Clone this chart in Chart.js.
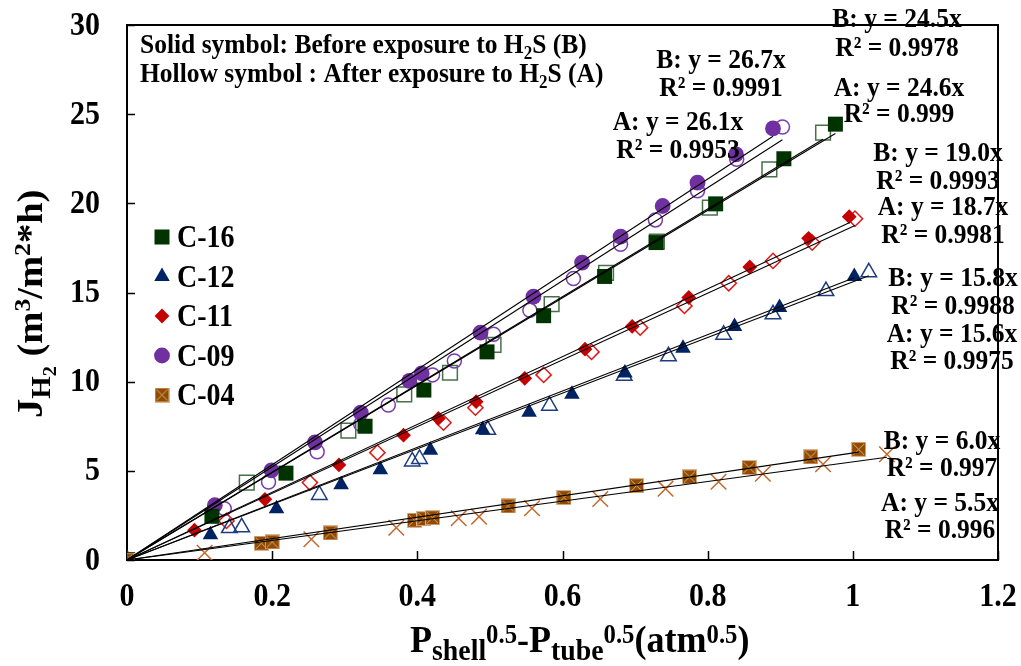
<!DOCTYPE html>
<html>
<head>
<meta charset="utf-8">
<script src="https://cdn.jsdelivr.net/npm/chart.js@4.4.1/dist/chart.umd.min.js"></script>
<style>
  html, body { margin: 0; padding: 0; background: #fff; }
  #wrap { width: 1021px; height: 666px; position: relative; }
</style>
</head>
<body>
<div id="wrap"><canvas id="c" width="1021" height="666"></canvas></div>
<script>
const SERIF = '"Liberation Serif", "Times New Roman", serif';
const STRETCH = 1.1; // glyphs are drawn slightly tall

// Membranes, in plotting order
const seriesNames = ['C-16', 'C-12', 'C-11', 'C-09', 'C-04'];

// H2 flux vs. Pshell^0.5 - Ptube^0.5, before exposure to H2S (B)
const c16Before = [[0,0],[0.117,2.45],[0.219,4.87],[0.328,7.5],[0.409,9.53],[0.496,11.67],[0.574,13.7],[0.658,15.9],[0.729,17.8],[0.811,19.97],[0.905,22.5],[0.976,24.44]];
const c12Before = [[0,0],[0.115,1.41],[0.206,2.88],[0.295,4.22],[0.349,5.06],[0.418,6.15],[0.49,7.3],[0.554,8.29],[0.613,9.3],[0.686,10.48],[0.766,11.88],[0.837,13.1],[0.899,14.16],[1.002,15.9]];
const c11Before = [[0,0],[0.093,1.67],[0.19,3.4],[0.292,5.33],[0.381,7.0],[0.429,7.94],[0.481,8.88],[0.548,10.19],[0.631,11.82],[0.696,13.1],[0.774,14.72],[0.858,16.43],[0.939,18.04],[0.995,19.25]];
const c09Before = [[0,0],[0.121,3.07],[0.199,5.03],[0.259,6.6],[0.322,8.26],[0.389,10.04],[0.406,10.47],[0.487,12.75],[0.56,14.77],[0.627,16.68],[0.68,18.13],[0.738,19.85],[0.786,21.16],[0.839,22.75],[0.89,24.2]];
const c04Before = [[0,0],[0.185,0.94],[0.2,1.01],[0.28,1.52],[0.396,2.23],[0.409,2.32],[0.421,2.37],[0.525,3.03],[0.602,3.5],[0.702,4.17],[0.775,4.66],[0.857,5.18],[0.942,5.78],[1.008,6.21]];

// ... and after exposure to H2S (A)
const c16After = [[0,0],[0.165,4.34],[0.305,7.25],[0.382,9.29],[0.445,10.5],[0.505,12.06],[0.585,14.35],[0.66,16.1],[0.73,17.85],[0.803,19.76],[0.885,21.9],[0.959,23.96]];
const c12After = [[0,0],[0.141,1.79],[0.158,1.83],[0.265,3.65],[0.393,5.53],[0.403,5.67],[0.497,7.3],[0.582,8.65],[0.685,10.33],[0.746,11.42],[0.822,12.63],[0.89,13.78],[0.963,15.08],[1.022,16.13]];
const c11After = [[0,0],[0.137,2.19],[0.252,4.34],[0.345,6.02],[0.436,7.7],[0.48,8.54],[0.574,10.38],[0.64,11.67],[0.707,13.03],[0.768,14.25],[0.829,15.52],[0.89,16.77],[0.944,17.8],[1.003,19.14]];
const c09After = [[0,0],[0.134,2.88],[0.195,4.37],[0.262,6.07],[0.322,7.61],[0.36,8.69],[0.421,10.38],[0.451,11.16],[0.505,12.66],[0.555,14.0],[0.615,15.78],[0.68,17.7],[0.728,19.07],[0.786,20.7],[0.84,22.47],[0.903,24.28]];
const c04After = [[0,0],[0.107,0.41],[0.254,1.16],[0.371,1.81],[0.457,2.34],[0.485,2.43],[0.558,2.9],[0.652,3.42],[0.742,4.0],[0.815,4.39],[0.876,4.84],[0.959,5.37],[1.047,5.93]];

// Linear fits through the origin (y = k x)
const slopeBefore = [24.5, 15.8, 19.0, 26.7, 6.0];
const slopeAfter  = [24.6, 15.6, 18.7, 26.1, 5.5];
const r2Before = ['0.9978', '0.9988', '0.9993', '0.9991', '0.997'];
const r2After  = ['0.999',  '0.9975', '0.9981', '0.9953', '0.996'];

// Axis tick labels
const xTickLabels = ['0', '0.2', '0.4', '0.6', '0.8', '1', '1.2'];
const yTickLabels = ['0', '5', '10', '15', '20', '25', '30'];

const beforeSets = [c16Before, c12Before, c11Before, c09Before, c04Before];
const afterSets  = [c16After,  c12After,  c11After,  c09After,  c04After];

// ---- marker styling ----
function makeCrossedSquare(size) {
  const c = document.createElement('canvas');
  c.width = size; c.height = size;
  const g = c.getContext('2d');
  g.fillStyle = '#974800';
  g.fillRect(0, 0, size, size);
  g.strokeStyle = '#d7b48c';
  g.lineWidth = 1;
  g.strokeRect(0.5, 0.5, size - 1, size - 1);
  g.strokeStyle = '#b9bd82';
  g.lineWidth = 1;
  g.beginPath();
  g.moveTo(2, 2); g.lineTo(size - 2, size - 2);
  g.moveTo(size - 2, 2); g.lineTo(2, size - 2);
  g.stroke();
  return c;
}
const c04Marker = makeCrossedSquare(15);

const solidStyle = [
  { pointStyle: 'rect',     radius: 10.6, color: '#013300' },
  { pointStyle: 'triangle', radius: 9.0,  color: '#002364' },
  { pointStyle: 'rectRot',  radius: 7.4,  color: '#c40000' },
  { pointStyle: 'circle',   radius: 7.9,  color: '#7030a0' },
  { pointStyle: c04Marker,  radius: 7.5,  color: '#974800' }
];
const hollowStyle = [
  { pointStyle: 'rect',     radius: 10.4, color: '#48704a' },
  { pointStyle: 'triangle', radius: 9.0,  color: '#1d3d80' },
  { pointStyle: 'rectRot',  radius: 7.6,  color: '#e01818' },
  { pointStyle: 'circle',   radius: 7.0,  color: '#7a3cb0' },
  { pointStyle: 'crossRot', radius: 11,   color: '#c4682c' }
];

const toPts = arr => arr.map(p => ({ x: p[0], y: p[1] }));
const maxX = arr => Math.max(...arr.map(p => p[0]));

const datasets = [];
seriesNames.forEach((name, i) => {
  const s = solidStyle[i], h = hollowStyle[i];
  datasets.push({
    label: name + ' (B)',
    data: toPts(beforeSets[i]),
    pointStyle: s.pointStyle,
    pointRadius: s.radius,
    pointHoverRadius: s.radius,
    backgroundColor: s.color,
    borderColor: s.color,
    borderWidth: 0,
    order: i === 4 ? 1 : 2
  });
  datasets.push({
    label: name + ' (A)',
    data: toPts(afterSets[i]),
    pointStyle: h.pointStyle,
    pointRadius: h.radius,
    pointHoverRadius: h.radius,
    backgroundColor: 'rgba(0,0,0,0)',
    borderColor: h.color,
    borderWidth: 1.5,
    order: 3
  });
  [[slopeBefore[i], beforeSets[i]], [slopeAfter[i], afterSets[i]]].forEach(([k, set]) => {
    const xe = maxX(set);
    datasets.push({
      label: name + ' fit',
      data: [{ x: 0, y: 0 }, { x: xe, y: k * xe }],
      showLine: true,
      borderColor: '#000',
      borderWidth: 1.1,
      pointRadius: 0,
      pointHoverRadius: 0,
      order: 0
    });
  });
});

// ---- text helpers ----
function tallText(ctx, text, x, y, size) {
  ctx.save();
  ctx.font = `bold ${size}px ${SERIF}`;
  ctx.translate(x, y);
  ctx.scale(1, STRETCH);
  ctx.fillText(text, 0, 0);
  ctx.restore();
}
function drawRich(ctx, segs, x, y, sx, sy) {
  let w = 0;
  segs.forEach(s => { ctx.font = `bold ${s[1]}px ${SERIF}`; s.w = ctx.measureText(s[0]).width; w += s.w; });
  ctx.save();
  ctx.translate(x, y);
  ctx.scale(sx, sy);
  let cx = 0;
  segs.forEach(s => {
    ctx.font = `bold ${s[1]}px ${SERIF}`;
    ctx.fillText(s[0], cx, s[2]);
    cx += s.w;
  });
  ctx.restore();
}

// positions of the fit captions: [centre x, equation line, R² line]
const captionBefore = [[897, 18, 47], [953, 277, 305], [938, 152, 180], [721, 59, 87], [942, 440, 467]];
const captionAfter  = [[899, 87, 113], [952, 333, 360], [943, 206, 234], [678, 121, 149], [940, 502, 529]];

const framePlugin = {
  id: 'frame',
  beforeDatasetsDraw(chart) {
    const { ctx, chartArea: a, scales: { x, y } } = chart;
    ctx.save();
    ctx.strokeStyle = '#000';
    ctx.lineWidth = 2;
    ctx.strokeRect(a.left, a.top, a.right - a.left, a.bottom - a.top);
    ctx.lineWidth = 1.5;
    ctx.beginPath();
    x.ticks.forEach(t => {
      const px = Math.round(x.getPixelForValue(t.value)) + 0.5;
      ctx.moveTo(px, a.bottom); ctx.lineTo(px, a.bottom - 9);
    });
    y.ticks.forEach(t => {
      const py = Math.round(y.getPixelForValue(t.value)) + 0.5;
      ctx.moveTo(a.left, py); ctx.lineTo(a.left + 8, py);
    });
    ctx.stroke();

    // tick labels
    ctx.fillStyle = '#000';
    ctx.textBaseline = 'middle';
    ctx.textAlign = 'center';
    x.ticks.forEach((t, i) => tallText(ctx, xTickLabels[i], x.getPixelForValue(t.value), 597, 30));
    ctx.textAlign = 'right';
    y.ticks.forEach((t, i) => tallText(ctx, yTickLabels[i], 100, y.getPixelForValue(t.value) + 1, 30));
    ctx.restore();
  }
};

function legendMarker(ctx, i, cx, cy) {
  const s = solidStyle[i];
  ctx.fillStyle = s.color;
  ctx.beginPath();
  if (i === 0) {
    ctx.rect(cx - 7.5, cy - 7.5, 15, 15);
  } else if (i === 1) {
    const r = 9;
    ctx.moveTo(cx, cy - r);
    ctx.lineTo(cx + r * 0.866, cy + r * 0.5);
    ctx.lineTo(cx - r * 0.866, cy + r * 0.5);
    ctx.closePath();
  } else if (i === 2) {
    const r = 7.4;
    ctx.moveTo(cx, cy - r); ctx.lineTo(cx + r, cy); ctx.lineTo(cx, cy + r); ctx.lineTo(cx - r, cy);
    ctx.closePath();
  } else if (i === 3) {
    ctx.arc(cx, cy, 7.9, 0, Math.PI * 2);
  }
  if (i === 4) ctx.drawImage(c04Marker, cx - 7.5, cy - 7.5);
  else ctx.fill();
}

const textPlugin = {
  id: 'texts',
  afterDraw(chart) {
    const { ctx } = chart;
    ctx.save();
    ctx.fillStyle = '#000';
    ctx.textBaseline = 'alphabetic';
    ctx.textAlign = 'left';

    // header
    drawRich(ctx, [['Solid symbol: Before exposure to H', 25.5, 0], ['2', 17, 5.5], ['S (B)', 25.5, 0]], 140, 53, 1, STRETCH);
    drawRich(ctx, [['Hollow symbol : After exposure to H', 25.5, 0], ['2', 17, 5.5], ['S (A)', 25.5, 0]], 140, 82, 1, STRETCH);

    // legend
    seriesNames.forEach((name, i) => {
      const cy = 237 + i * 39.5;
      legendMarker(ctx, i, 162, cy);
      ctx.fillStyle = '#000';
      tallText(ctx, name, 177, cy + 10, 28);
    });

    // fit captions
    ctx.textAlign = 'center';
    seriesNames.forEach((name, i) => {
      const b = captionBefore[i], a = captionAfter[i];
      tallText(ctx, `B: y = ${slopeBefore[i].toFixed(1)}x`, b[0], b[1] + 9, 25.5);
      tallText(ctx, `R\u00B2 = ${r2Before[i]}`, b[0], b[2] + 9, 25.5);
      tallText(ctx, `A: y = ${slopeAfter[i].toFixed(1)}x`, a[0], a[1] + 9, 25.5);
      tallText(ctx, `R\u00B2 = ${r2After[i]}`, a[0], a[2] + 9, 25.5);
    });

    // x-axis title
    ctx.textAlign = 'left';
    drawRich(ctx, [
      ['P', 35, 0], ['shell', 27, 7.5], ['0.5', 24, -8.5], ['-P', 35, 0], ['tube', 27, 7.5],
      ['0.5', 24, -8.5], ['(atm', 35, 0], ['0.5', 24, -8.5], [')', 35, 0]
    ], 410, 652, 1.03, STRETCH);

    // y-axis title (reads bottom to top)
    ctx.save();
    ctx.translate(42, 418);
    ctx.rotate(-Math.PI / 2);
    drawRich(ctx, [
      ['J', 36, 0], ['H', 27, 8], ['2', 19, 14], [' (m', 36, 0], ['3', 24, -12],
      ['/m', 36, 0], ['2', 24, -12], ['*h)', 36, 0]
    ], 0, 0, 1.07, 1);
    ctx.restore();

    ctx.restore();
  }
};

new Chart(document.getElementById('c'), {
  type: 'scatter',
  data: { datasets },
  options: {
    responsive: false,
    animation: false,
    devicePixelRatio: 1,
    layout: { padding: { top: 25, right: 23, left: 0, bottom: 0 } },
    plugins: { legend: { display: false }, tooltip: { enabled: false } },
    scales: {
      x: {
        type: 'linear', min: 0, max: 1.2,
        afterFit: s => { s.height = 106; },
        grid: { display: false, drawTicks: false },
        border: { display: false },
        ticks: { stepSize: 0.2, display: false }
      },
      y: {
        type: 'linear', min: 0, max: 30,
        afterFit: s => { s.width = 127; },
        grid: { display: false, drawTicks: false },
        border: { display: false },
        ticks: { stepSize: 5, display: false }
      }
    }
  },
  plugins: [framePlugin, textPlugin]
});
</script>
</body>
</html>
